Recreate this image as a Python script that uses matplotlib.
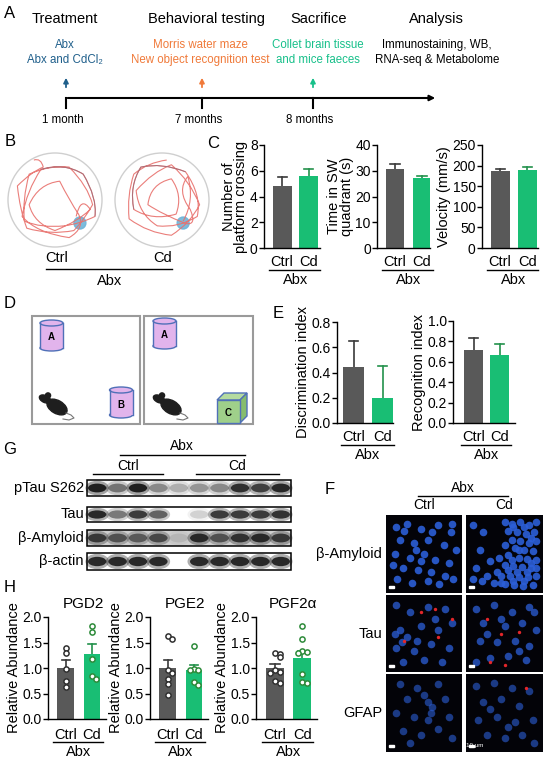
import numpy as np
import matplotlib
matplotlib.use('Agg')
import matplotlib.pyplot as plt
from matplotlib.patches import Circle, Ellipse, Rectangle, Polygon, PathPatch
from matplotlib.path import Path

plt.rcParams['font.family'] = ['Liberation Sans', 'DejaVu Sans']

W, H = 550, 761
GRAY = '#595959'
GREEN = '#19be74'
ERR_CTRL = '#3a3a3a'
ERR_CD = '#23914b'
BLUE_T = '#1f5f8b'
ORANGE_T = '#f07a3a'
GREEN_T = '#17c08a'
PINK = '#e2b4ec'
EDGE_BLUE = '#5070b8'

groups = ['Ctrl', 'Cd']

# timeline (A)
stage_titles = ['Treatment', 'Behavioral testing', 'Sacrifice', 'Analysis']
stage_notes = [['Abx', 'Abx and CdCl\u2082'],
               ['Morris water maze', 'New object recognition test'],
               ['Collet brain tissue', 'and mice faeces'],
               ['Immunostaining, WB,', 'RNA-seq & Metabolome']]
time_labels = ['1 month', '7 months', '8 months']

# C: Morris water maze
platform_mean = [4.8, 5.6]
platform_sem = [0.75, 0.5]
quadrant_mean = [30.5, 27.3]
quadrant_sem = [2.2, 0.5]
velocity_mean = [187, 190]
velocity_sem = [5, 7]

# E: new object recognition
discrim_mean = [0.44, 0.20]
discrim_sem = [0.21, 0.255]
recog_mean = [0.72, 0.67]
recog_sem = [0.11, 0.10]

# H: metabolites
pgd2_ctrl = [1.40, 1.29, 0.98, 0.75, 0.62]
pgd2_cd = [1.83, 1.70, 1.17, 0.85, 0.78]
pgd2_sem = [0.15, 0.21]
pge2_ctrl = [1.62, 1.56, 0.97, 0.91, 0.78, 0.68, 0.48]
pge2_cd = [1.44, 0.98, 0.97, 0.96, 0.72, 0.67]
pge2_sem = [0.16, 0.10]
pgf_ctrl = [1.30, 1.27, 1.21, 0.97, 0.92, 0.90, 0.75, 0.70]
pgf_cd = [1.82, 1.57, 1.33, 1.31, 1.30, 0.88, 0.72, 0.71]
pgf_sem = [0.07, 0.12]

# G: western blot band intensities (10 lanes, lane 5 empty)
blot_names = ['pTau S262', 'Tau', '\u03b2-Amyloid', '\u03b2-actin']
ptau_bands = [0.95, 0.5, 0.95, 0.4, 0.25, 0.35, 0.4, 0.85, 0.75, 0.9]
tau_bands = [0.9, 0.5, 0.8, 0.6, 0.0, 0.15, 0.8, 0.8, 0.8, 0.85]
amyloid_bands = [0.75, 0.6, 0.55, 0.65, 0.1, 0.85, 0.6, 0.8, 0.85, 0.75]
actin_bands = [0.9, 0.9, 0.9, 0.9, 0.0, 0.9, 0.9, 0.9, 0.9, 0.9]

# B: swim paths (unit circle coords)
track_ctrl = [(-0.45, 0.85), (-0.3, 0.9), (-0.25, 0.7), (-0.5, 0.6), (-0.8, 0.3), (-0.75, -0.2),
              (-0.6, -0.6), (-0.1, -0.75), (0.4, -0.65), (0.6, -0.45), (0.8, -0.1), (0.7, 0.3),
              (0.3, 0.7), (-0.1, 0.75), (-0.55, 0.55), (-0.7, 0.0), (-0.65, -0.45), (-0.3, -0.6),
              (0.2, -0.55), (0.55, -0.5), (0.85, -0.35), (0.9, 0.05), (0.6, 0.55), (0.2, 0.8),
              (-0.3, 0.65), (-0.6, 0.2), (-0.7, -0.35), (-0.4, -0.7), (0.3, -0.8), (0.65, -0.6),
              (0.5, -0.3), (0.3, 0.0), (0.1, 0.4), (-0.35, 0.35), (-0.55, -0.1), (-0.45, -0.5),
              (0.0, -0.65), (0.5, -0.45), (0.75, -0.2), (0.55, 0.1), (0.45, -0.35)]
track_cd = [(0.1, 0.85), (-0.3, 0.8), (-0.6, 0.55), (-0.75, 0.1), (-0.7, -0.4), (-0.3, -0.7),
            (0.2, -0.75), (0.6, -0.5), (0.8, -0.1), (0.6, 0.4), (0.2, 0.75), (-0.2, 0.6),
            (-0.55, 0.2), (-0.5, -0.3), (-0.1, -0.55), (0.35, -0.6), (0.75, -0.35), (0.85, 0.1),
            (0.5, 0.6), (0.0, 0.8), (-0.45, 0.7), (-0.7, 0.3), (-0.6, -0.2), (-0.2, -0.45),
            (0.3, -0.3), (0.45, 0.1), (0.2, 0.45), (-0.25, 0.35), (-0.3, -0.1), (0.0, -0.3),
            (0.5, -0.5), (0.75, -0.55), (0.6, -0.2), (0.3, 0.2), (0.55, 0.5), (0.7, 0.0),
            (0.45, -0.45)]

# F: nuclei (u, v in panel fraction) per image
amy_ctrl = [(0.1, 0.12), (0.25, 0.08), (0.45, 0.15), (0.7, 0.1), (0.88, 0.2), (0.15, 0.3),
            (0.35, 0.35), (0.55, 0.3), (0.78, 0.38), (0.95, 0.45), (0.08, 0.5), (0.3, 0.55),
            (0.5, 0.5), (0.65, 0.58), (0.85, 0.62), (0.2, 0.7), (0.42, 0.72), (0.6, 0.75),
            (0.8, 0.8), (0.12, 0.85), (0.33, 0.9), (0.55, 0.88), (0.72, 0.92), (0.92, 0.85),
            (0.45, 0.6), (0.22, 0.18), (0.62, 0.2), (0.05, 0.65), (0.9, 0.08), (0.38, 0.45)]
amy_cd = [(0.05, 0.1), (0.2, 0.2), (0.15, 0.45), (0.3, 0.6), (0.1, 0.7), (0.25, 0.8), (0.4, 0.75),
          (0.5, 0.05), (0.6, 0.08), (0.72, 0.05), (0.85, 0.1), (0.95, 0.06), (0.55, 0.18),
          (0.68, 0.2), (0.8, 0.22), (0.92, 0.2), (0.6, 0.3), (0.72, 0.32), (0.85, 0.35),
          (0.95, 0.32), (0.65, 0.42), (0.78, 0.45), (0.9, 0.46), (0.55, 0.52), (0.7, 0.55),
          (0.82, 0.57), (0.95, 0.58), (0.5, 0.65), (0.62, 0.67), (0.75, 0.68), (0.88, 0.7),
          (0.45, 0.8), (0.58, 0.8), (0.7, 0.82), (0.83, 0.82), (0.95, 0.8), (0.5, 0.92),
          (0.63, 0.93), (0.76, 0.94), (0.9, 0.93), (0.35, 0.9), (0.42, 0.55), (0.5, 0.38),
          (0.62, 0.12), (0.78, 0.12), (0.88, 0.28), (0.7, 0.45), (0.6, 0.58), (0.88, 0.62),
          (0.55, 0.72), (0.68, 0.75), (0.82, 0.75), (0.95, 0.7), (0.62, 0.88), (0.78, 0.88),
          (0.45, 0.9), (0.18, 0.88), (0.05, 0.85)]
tau_ctrl = [(0.1, 0.1), (0.3, 0.2), (0.55, 0.12), (0.8, 0.15), (0.9, 0.35), (0.15, 0.45),
            (0.25, 0.55), (0.45, 0.4), (0.7, 0.45), (0.1, 0.7), (0.35, 0.75), (0.6, 0.65),
            (0.85, 0.7), (0.2, 0.9), (0.5, 0.88), (0.75, 0.9), (0.08, 0.5), (0.18, 0.62),
            (0.4, 0.6), (0.65, 0.3)]
tau_ctrl_red = [(0.45, 0.2), (0.65, 0.15), (0.22, 0.6), (0.7, 0.55), (0.9, 0.3)]
tau_cd = [(0.1, 0.15), (0.35, 0.1), (0.6, 0.2), (0.85, 0.12), (0.2, 0.35), (0.5, 0.4),
          (0.75, 0.35), (0.95, 0.45), (0.15, 0.6), (0.4, 0.62), (0.65, 0.6), (0.85, 0.68),
          (0.3, 0.85), (0.55, 0.82), (0.8, 0.88), (0.1, 0.9), (0.92, 0.2), (0.7, 0.75),
          (0.25, 0.5), (0.45, 0.3)]
tau_cd_red = [(0.25, 0.3), (0.45, 0.5), (0.7, 0.48), (0.3, 0.9), (0.5, 0.95)]
gfap_ctrl = [(0.15, 0.1), (0.4, 0.15), (0.7, 0.1), (0.25, 0.3), (0.55, 0.35), (0.8, 0.3),
             (0.1, 0.5), (0.35, 0.55), (0.6, 0.5), (0.85, 0.55), (0.2, 0.75), (0.45, 0.8),
             (0.7, 0.72), (0.9, 0.85), (0.3, 0.92), (0.55, 0.6), (0.62, 0.42), (0.5, 0.25)]
gfap_cd = [(0.1, 0.12), (0.35, 0.08), (0.6, 0.15), (0.85, 0.2), (0.2, 0.35), (0.45, 0.3),
           (0.7, 0.4), (0.12, 0.6), (0.4, 0.55), (0.65, 0.62), (0.9, 0.6), (0.25, 0.8),
           (0.5, 0.85), (0.75, 0.8), (0.92, 0.92), (0.3, 0.45), (0.55, 0.7)]
gfap_cd_red = [(0.8, 0.15)]

fig = plt.figure(figsize=(W / 100, H / 100), dpi=100)
bg = fig.add_axes([0, 0, 1, 1])
bg.set_xlim(0, W)
bg.set_ylim(H, 0)
bg.axis('off')


def px_ax(l, t, r, b):
    ax = fig.add_axes([l / W, 1 - b / H, (r - l) / W, (b - t) / H])
    ax.set_facecolor('none')
    return ax


def txt(x, y, s, size=9, **kw):
    kw.setdefault('ha', 'center')
    kw.setdefault('va', 'center')
    bg.text(x, y, s, fontsize=size, **kw)


def letter(x, y, s):
    txt(x, y, s, size=12)


# ---------- A ----------
letter(10, 14, 'A')
title_x = [65, 206, 319, 436]
note_x = [65, 200, 318, 437]
note_colors = [BLUE_T, ORANGE_T, GREEN_T, 'black']
for tx, nx, t, notes, c in zip(title_x, note_x, stage_titles, stage_notes, note_colors):
    txt(tx, 19, t, size=10.5)
    txt(nx, 45, notes[0], size=8.3, color=c)
    txt(nx, 60, notes[1], size=8.3, color=c)
tick_x = [66, 202, 313]
for tx, c, lab in zip(tick_x, note_colors[:3], time_labels):
    bg.annotate('', xy=(tx, 75), xytext=(tx, 90),
                arrowprops=dict(arrowstyle='-|>', color=c, lw=1.3, mutation_scale=7))
    bg.plot([tx, tx], [98, 108], color='black', lw=1.5)
    txt(tx - 3, 120, lab, size=8.3)
bg.annotate('', xy=(438, 98), xytext=(65, 98),
            arrowprops=dict(arrowstyle='-|>', color='black', lw=1.5, mutation_scale=8))


# ---------- B ----------
def swim(cx, cy, r, pts, plat):
    bg.add_patch(Circle((cx, cy), r, facecolor='white', edgecolor='#cfcfcf', lw=1))
    bg.add_patch(Circle((cx + plat[0] * r, cy - plat[1] * r), 6, color='#6fb4d8', alpha=0.9))
    verts = [(cx + r * px, cy - r * py) for px, py in pts]
    if len(verts) % 2 == 0:
        verts = verts[:-1]
    codes = [Path.MOVETO] + [Path.CURVE3] * (len(verts) - 1)
    bg.add_patch(PathPatch(Path(verts, codes), fill=False, edgecolor='#e8706c', lw=0.8, alpha=0.9))
    start = len(verts) // 2
    if start % 2:
        start -= 1
    part = verts[start:start + 5]
    bg.add_patch(PathPatch(Path(part, [Path.MOVETO] + [Path.CURVE3] * (len(part) - 1)),
                           fill=False, edgecolor='#9a6a78', lw=0.7, alpha=0.8))


letter(10, 142, 'B')
swim(55, 200, 47, track_ctrl, (0.53, -0.49))
swim(162, 200, 47, track_cd, (0.45, -0.49))
txt(57, 258, 'Ctrl', size=10.5)
txt(163, 258, 'Cd', size=10.5)
bg.plot([46, 172], [269, 269], color='black', lw=1)
txt(110, 281, 'Abx', size=10.5)


# ---------- bar charts ----------
def bar_panel(rect, means, sems, ylim, ticks, ylabel, xlim, width,
              ctrl_pts=None, cd_pts=None, title=None, off=(14, 22, 32), fmt=None):
    l, t, r, b = rect
    ax = px_ax(l, t, r, b)
    x = np.arange(2)
    ax.bar(x, means, width, color=[GRAY, GREEN], zorder=2)
    for xi, m, s, c in zip(x, means, sems, [ERR_CTRL, ERR_CD]):
        ax.plot([xi, xi], [m, m + s], color=c, lw=1.2, zorder=1)
        ax.plot([xi - 0.17, xi + 0.17], [m + s] * 2, color=c, lw=1.2, zorder=1)
    if ctrl_pts is not None:
        for xi, pts, ec in zip(x, [ctrl_pts, cd_pts], ['#303030', '#2e8b3a']):
            xs = []
            for i, v in enumerate(pts):
                n = sum(1 for w in pts[:i] if abs(w - v) < 0.09)
                xs.append(xi + [0, 0.17, -0.17, 0.34][n % 4])
            ax.scatter(xs, pts, s=14, facecolor='white', edgecolor=ec, lw=1.1, zorder=4)
    ax.set_xlim(*xlim)
    ax.set_ylim(*ylim)
    ax.set_yticks(ticks)
    if fmt:
        ax.set_yticklabels([fmt.format(v) for v in ticks])
    ax.set_xticks([])
    ax.tick_params(axis='y', length=3.5, width=1, pad=1, labelsize=10)
    for s in ['top', 'right']:
        ax.spines[s].set_visible(False)
    for s in ['left', 'bottom']:
        ax.spines[s].set_linewidth(1)
    ax.set_ylabel(ylabel, fontsize=10.5, labelpad=1, linespacing=0.9)
    if title:
        txt((l + r) / 2 + 6, t - 13, title, size=11)
    cx = [l + (xi - xlim[0]) / (xlim[1] - xlim[0]) * (r - l) for xi in x]
    txt(cx[0], b + off[0], groups[0], size=10.5)
    txt(cx[1], b + off[0], groups[1], size=10.5)
    bg.plot([cx[0] - 13, cx[1] + 11], [b + off[1]] * 2, color='black', lw=1)
    txt((cx[0] + cx[1]) / 2, b + off[2], 'Abx', size=10.5)
    return ax


letter(213, 143, 'C')
bar_panel((264, 145, 320, 248), platform_mean, platform_sem, (0, 8), [0, 2, 4, 6, 8],
          'Number of\nplatform crossing', (-0.68, 1.42), 0.72)
bar_panel((377, 145, 430, 248), quadrant_mean, quadrant_sem, (0, 40), [0, 10, 20, 30, 40],
          'Time in SW\nquadrant (s)', (-0.67, 1.3), 0.7)
bar_panel((482, 145, 538, 248), velocity_mean, velocity_sem, (0, 250), [0, 50, 100, 150, 200, 250],
          'Velocity (mm/s)', (-0.67, 1.4), 0.7)

letter(278, 313, 'E')
bar_panel((337, 322, 393, 423), discrim_mean, discrim_sem, (0, 0.8), [0, 0.2, 0.4, 0.6, 0.8],
          'Discrimination index', (-0.57, 1.36), 0.7, fmt='{:.1f}')
bar_panel((453, 321, 515, 423), recog_mean, recog_sem, (0, 1.0), [0, 0.2, 0.4, 0.6, 0.8, 1.0],
          'Recognition index', (-0.8, 1.6), 0.76, fmt='{:.1f}')

letter(10, 587, 'H')
h_sets = [(48, 106, pgd2_ctrl, pgd2_cd, pgd2_sem, 'PGD2'),
          (150, 208, pge2_ctrl, pge2_cd, pge2_sem, 'PGE2'),
          (256, 317, pgf_ctrl, pgf_cd, pgf_sem, 'PGF2\u03b1')]
for l, r, cp, dp, sem, name in h_sets:
    bar_panel((l, 617, r, 719), [np.mean(cp), np.mean(dp)], sem, (0, 2.0), [0, 0.5, 1.0, 1.5, 2.0],
              'Relative Abundance', (-0.69, 1.54), 0.65, ctrl_pts=cp, cd_pts=dp, title=name,
              off=(16, 23, 33), fmt='{:.1f}')


# ---------- D ----------
def cylinder(cx, ytop, ybot, w, label):
    eh = 6
    bg.add_patch(Ellipse((cx, ybot), w, eh, facecolor=PINK, edgecolor=EDGE_BLUE, lw=1))
    bg.add_patch(Rectangle((cx - w / 2, ytop), w, ybot - ytop, facecolor=PINK, edgecolor='none'))
    bg.plot([cx - w / 2, cx - w / 2], [ytop, ybot], color=EDGE_BLUE, lw=1)
    bg.plot([cx + w / 2, cx + w / 2], [ytop, ybot], color=EDGE_BLUE, lw=1)
    bg.add_patch(Ellipse((cx, ytop), w, eh, facecolor=PINK, edgecolor=EDGE_BLUE, lw=1))
    txt(cx, (ytop + ybot) / 2 + 2, label, size=7, fontweight='bold')


def cube(x, y, s, d, label):
    bg.add_patch(Polygon([(x, y), (x + d, y - d), (x + s + d, y - d), (x + s, y)],
                         facecolor='#b5dba0', edgecolor=EDGE_BLUE, lw=1))
    bg.add_patch(Polygon([(x + s, y), (x + s + d, y - d), (x + s + d, y + s - d), (x + s, y + s)],
                         facecolor='#86bd6d', edgecolor=EDGE_BLUE, lw=1))
    bg.add_patch(Rectangle((x, y), s, s, facecolor='#9fd08a', edgecolor=EDGE_BLUE, lw=1))
    txt(x + s / 2, y + s / 2 + 1, label, size=7, fontweight='bold')


def mouse(x, y):
    bg.add_patch(Ellipse((x + 19, y + 14), 22, 13, angle=30, color='#1e1e1e'))
    bg.add_patch(Ellipse((x + 7, y + 6), 12, 7, angle=25, color='#1e1e1e'))
    bg.add_patch(Circle((x + 10, y + 2.5), 2.6, color='#1e1e1e'))
    bg.plot([x + 28, x + 33, x + 36, x + 31, x + 25], [y + 20, y + 22, y + 25, y + 27, y + 26],
            color='#777777', lw=0.8)


letter(10, 303, 'D')
bg.add_patch(Rectangle((32, 316), 108, 108, facecolor='none', edgecolor='#9a9a9a', lw=1.5))
bg.add_patch(Rectangle((144, 316), 109, 108, facecolor='none', edgecolor='#9a9a9a', lw=1.5))
cylinder(51.5, 323, 348, 23, 'A')
cylinder(121, 390, 415, 23, 'B')
cylinder(164.5, 321, 346, 23, 'A')
cube(217, 400, 23, 7, 'C')
mouse(38, 393)
mouse(152, 393)

# ---------- G ----------
letter(10, 449, 'G')
txt(182, 446, 'Abx', size=10)
bg.plot([120, 245], [455, 455], color='black', lw=1)
txt(128, 466, 'Ctrl', size=10)
bg.plot([93, 163], [474, 474], color='black', lw=1)
txt(237, 466, 'Cd', size=10)
bg.plot([196, 279], [474, 474], color='black', lw=1)
blot_rows = [(480, 496), (507, 522), (530, 546), (553, 570)]
blot_bg = ['#f4f4f4', 'white', '#cfcfcf', 'white']
x0, x1 = 87, 291
lane_w = (x1 - x0) / 10
for name, (t, b), bands, face in zip(blot_names, blot_rows,
                                    [ptau_bands, tau_bands, amyloid_bands, actin_bands], blot_bg):
    bg.add_patch(Rectangle((x0, t), x1 - x0, b - t, facecolor=face, edgecolor='none'))
    cy = (t + b) / 2
    for i, v in enumerate(bands):
        cx = x0 + (i + 0.5) * lane_w
        bg.add_patch(Ellipse((cx, cy), lane_w * 1.15, (b - t) * 0.9, color='black', alpha=v * 0.35, lw=0))
        bg.add_patch(Ellipse((cx, cy), lane_w * 0.9, (b - t) * 0.55, color='black', alpha=v * 0.85, lw=0))
    bg.add_patch(Rectangle((x0, t), x1 - x0, b - t, facecolor='none', edgecolor='black', lw=1.1))
    txt(84, cy, name, size=10.5, ha='right')

# ---------- F ----------
letter(330, 490, 'F')
txt(463, 488, 'Abx', size=10)
bg.plot([418, 508], [496, 496], color='black', lw=1)
txt(424, 505, 'Ctrl', size=10)
txt(504, 505, 'Cd', size=10)
cols = [(386, 462), (466, 543)]
rows = [(515, 593), (595, 672), (674, 752)]
panels = [[(amy_ctrl, []), (amy_cd, [])],
          [(tau_ctrl, tau_ctrl_red), (tau_cd, tau_cd_red)],
          [(gfap_ctrl, []), (gfap_cd, gfap_cd_red)]]
row_names = ['\u03b2-Amyloid', 'Tau', 'GFAP']
row_alpha = [0.9, 0.75, 0.6]
for (t, b), row, rname, al in zip(rows, panels, row_names, row_alpha):
    txt(382, (t + b) / 2, rname, size=10.5, ha='right')
    for (l, r), (blue, red) in zip(cols, row):
        bg.add_patch(Rectangle((l, t), r - l, b - t, facecolor='#030308', edgecolor='none'))
        bx = [l + 3 + u * (r - l - 6) for u, v in blue]
        by = [t + 3 + v * (b - t - 6) for u, v in blue]
        bg.scatter(bx, by, s=30, color='#2c5fd8', alpha=al, lw=0)
        if red:
            rx = [l + 3 + u * (r - l - 6) for u, v in red]
            ry = [t + 3 + v * (b - t - 6) for u, v in red]
            bg.scatter(rx, ry, s=6, color='#e3262a', lw=0)
        bg.add_patch(Rectangle((l + 3, b - 7), 5, 2, color='white'))
txt(475, 746, '10 \u03bcm', size=4.5, color='white')

fig.savefig('out.png', dpi=100)
